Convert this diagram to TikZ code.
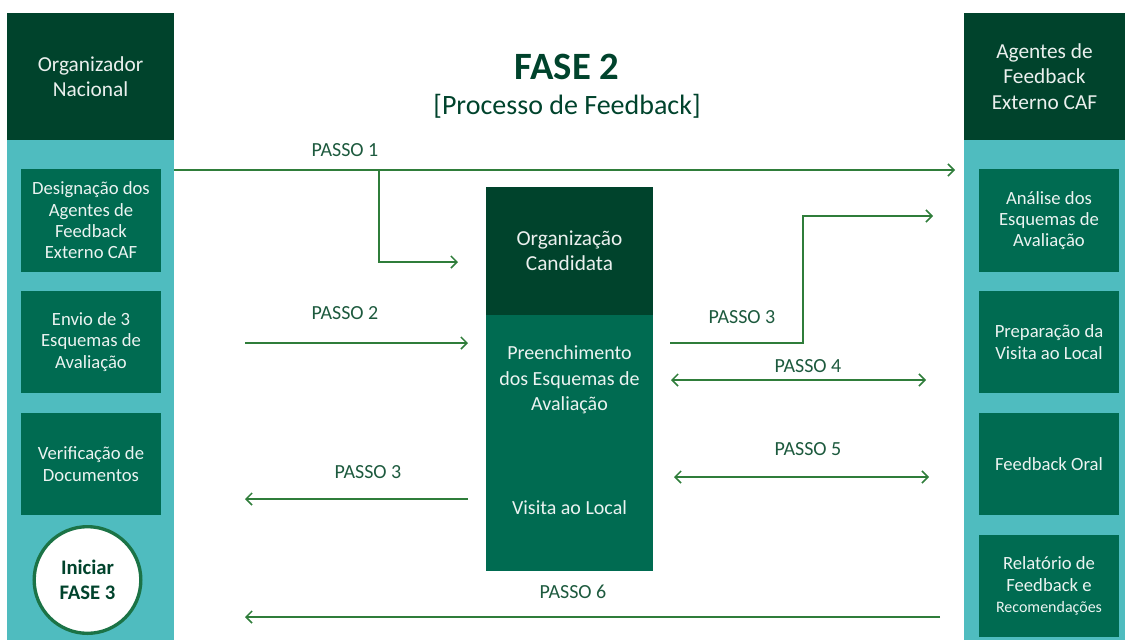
\documentclass[tikz,border=0pt]{standalone}
\usepackage{fontspec}
\setmainfont{Carlito}
\usetikzlibrary{arrows.meta,positioning}
\definecolor{darkgreen}{HTML}{00432C}
\definecolor{boxgreen}{HTML}{006B51}
\definecolor{colteal}{HTML}{4FBCBF}
\definecolor{linegreen}{HTML}{2F7D3A}
\definecolor{labelgreen}{HTML}{1D5A3E}
\definecolor{ringgreen}{HTML}{1B7346}
\tikzstyle{header} = [rectangle, fill=darkgreen, text=white!92!darkgreen, align=center,
    minimum height=95.25pt, inner sep=0pt, font=\fontsize{16}{19}\selectfont]
\tikzstyle{block} = [rectangle, fill=boxgreen, text=white!92!boxgreen, align=center,
    minimum width=105pt, minimum height=77pt, inner sep=0pt, font=\fontsize{14}{16}\selectfont]
\tikzstyle{line} = [draw=linegreen, line width=1.1pt, -{Straight Barb[length=4.5pt,width=9pt]}]
\tikzstyle{both} = [line, {Straight Barb[length=4.5pt,width=9pt]}-{Straight Barb[length=4.5pt,width=9pt]}]
\tikzstyle{passo} = [text=labelgreen, font=\fontsize{15}{18}\selectfont]

\begin{document}
\begin{tikzpicture}[x=0.75pt, y=-0.75pt]
		\useasboundingbox (0,0) rectangle (1125,640);
		% columns
		\fill[colteal] (7,140) rectangle (174,640);
		\fill[colteal] (964,140) rectangle (1125,640);
		\node [header, minimum width=125.25pt] (org) at (90.5,76.5) {Organizador\\Nacional};
		\node [header, minimum width=120.75pt] (agents) at (1044.5,76.5) {Agentes de\\Feedback\\Externo CAF};
		
		% left boxes
		\node [block] (desig) at (91,220.5) {Designação dos\\Agentes de\\Feedback\\Externo CAF};
		\node [block] (envio) at (91,342) {Envio de 3\\Esquemas de\\Avaliação};
		\node [block] (verif) at (91,464) {Verificação de\\Documentos};
		\node [circle, draw=ringgreen, line width=2.5pt, fill=white, minimum size=80pt, align=center,
			text=darkgreen, font=\bfseries\fontsize{15.5}{19}\selectfont] (start) at (87.5,580) {Iniciar\\FASE 3};
		
		% right boxes
		\node [block] (anal) at (1049,220.5) {Análise dos\\Esquemas de\\Avaliação};
		\node [block] (prep) at (1049,342) {Preparação da\\Visita ao Local};
		\node [block] (oral) at (1049,464) {Feedback Oral};
		\node [block] (relat) at (1049,586) {Relatório de\\Feedback e\\{\fontsize{12}{16}\selectfont Recomendações}};
		
		% centre
		\node [header, minimum width=125.25pt, minimum height=96pt] (cand) at (569.5,251) {Organização\\Candidata};
		\node [block, minimum width=125.25pt, minimum height=97.5pt, font=\fontsize{15}{19}\selectfont] (preen) at (569.5,380) {Preenchimento\\dos Esquemas de\\Avaliação};
		\node [block, minimum width=125.25pt, minimum height=94.5pt, font=\fontsize{15}{19}\selectfont] (visita) at (569.5,508) {Visita ao Local};
		
		% title
		\node [text=darkgreen, font=\bfseries\fontsize{29}{34}\selectfont] (title) at (567,67) {FASE 2};
		\node [text=darkgreen, font=\fontsize{21}{25}\selectfont] (subtitle) at (567,106) {[Processo de Feedback]};
		
		% arrows
		\coordinate (p1s) at (174,170);
		\coordinate (p1e) at (955,170);
		\coordinate (p1b) at (379,170);
		\coordinate (p1c) at (458,262);
		\coordinate (p2s) at (245,343);
		\coordinate (p2e) at (468,343);
		\coordinate (p3s) at (468,499);
		\coordinate (p3e) at (245,499);
		\coordinate (q3s) at (670,343);
		\coordinate (q3m) at (803,343);
		\coordinate (q3e) at (933,216);
		\coordinate (p4s) at (671,380);
		\coordinate (p4e) at (926,380);
		\coordinate (p5s) at (674,477);
		\coordinate (p5e) at (929,477);
		\coordinate (p6s) at (940,617);
		\coordinate (p6e) at (245,617);
		
		\path [line] (p1s) -- (p1e);
		\path [line] (p1b) |- (p1c);
		\path [line] (p2s) -- (p2e);
		\path [line] (p3s) -- (p3e);
		\path [line] (q3s) -- (q3m) |- (q3e);
		\path [both] (p4s) -- (p4e);
		\path [both] (p5s) -- (p5e);
		\path [line] (p6s) -- (p6e);
		
		\node [passo] (l1) at (345,150) {PASSO 1};
		\node [passo] (l2) at (345,313) {PASSO 2};
		\node [passo] (l3) at (368,472) {PASSO 3};
		\node [passo] (m3) at (742,317) {PASSO 3};
		\node [passo] (l4) at (808,366) {PASSO 4};
		\node [passo] (l5) at (808,449) {PASSO 5};
		\node [passo] (l6) at (573,592) {PASSO 6};
	\end{tikzpicture}
\end{document}
